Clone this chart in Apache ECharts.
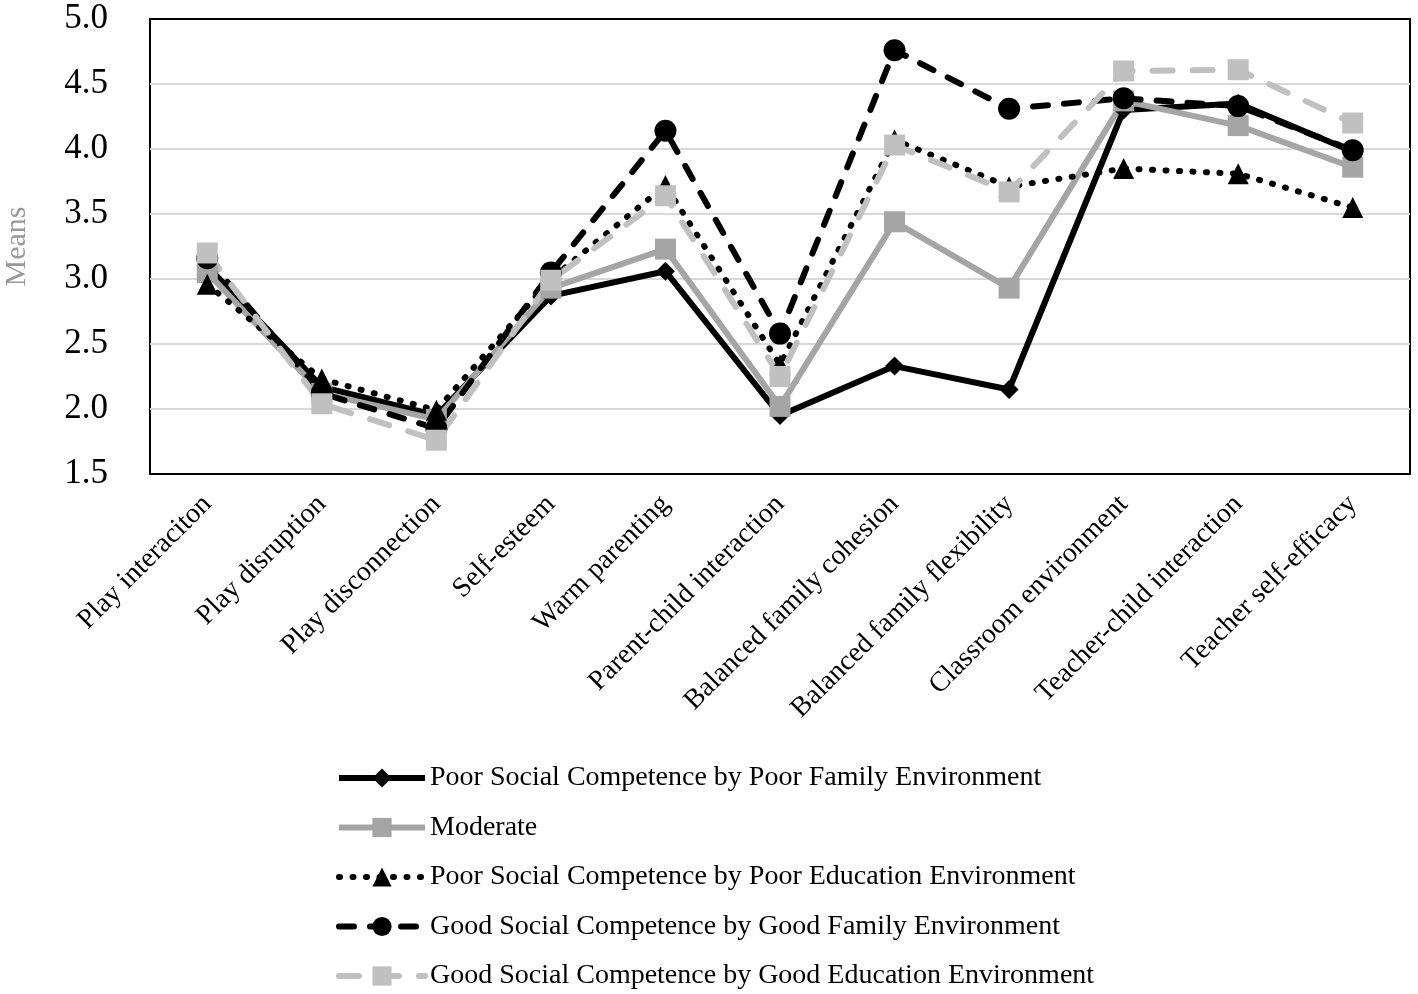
<!DOCTYPE html>
<html>
<head>
<meta charset="utf-8">
<script src="https://cdn.jsdelivr.net/npm/echarts@6/dist/echarts.min.js"></script>
<style>
html,body{margin:0;padding:0;background:#fff;}
#chart{width:1418px;height:994px;}
</style>
</head>
<body>
<div id="chart"></div>
<script>
const categories = ["Play interaciton","Play disruption","Play disconnection","Self-esteem","Warm parenting","Parent-child interaction","Balanced family cohesion","Balanced family flexibility","Classroom environment","Teacher-child interaction","Teacher self-efficacy"];
const seriesNames = ["Poor Social Competence by Poor Family Environment","Moderate","Poor Social Competence by Poor Education Environment","Good Social Competence by Good Family Environment","Good Social Competence by Good Education Environment"];
const poorFamily = [3.10, 2.17, 1.95, 2.87, 3.06, 1.95, 2.33, 2.15, 4.30, 4.35, 3.98];
const moderate = [3.05, 2.12, 1.92, 2.93, 3.23, 2.02, 3.44, 2.93, 4.37, 4.18, 3.86];
const poorEducation = [2.96, 2.23, 1.99, 3.00, 3.72, 2.34, 4.07, 3.71, 3.85, 3.81, 3.55];
const goodFamily = [3.16, 2.12, 1.85, 3.05, 4.14, 2.58, 4.76, 4.31, 4.39, 4.33, 3.99];
const goodEducation = [3.20, 2.04, 1.76, 2.99, 3.64, 2.25, 4.03, 3.67, 4.60, 4.61, 4.20];
const yTicks = {min: 1.5, max: 5.0, interval: 0.5};

const font = "'Liberation Serif','Times New Roman',serif";
const chart = echarts.init(document.getElementById('chart'));
chart.setOption({
  animation: false,
  backgroundColor: '#fff',
  textStyle: {fontFamily: font},
  grid: {left: 150, top: 19, width: 1260, height: 455, show: true, borderColor: '#000', borderWidth: 2,
         backgroundColor: 'transparent', containLabel: false, outerBoundsMode: 'none'},
  legend: {
    orient: 'vertical', left: 331, top: 759, height: 240,
    itemWidth: 86, itemHeight: 24, itemGap: 21.5,
    lineStyle: {width: 6},
    textStyle: {fontFamily: font, fontSize: 28, color: '#000'},
    data: seriesNames
  },
  xAxis: {
    type: 'category', data: categories, boundaryGap: true,
    axisLine: {show: true, lineStyle: {color: '#000', width: 2}}, axisTick: {show: false},
    axisLabel: {rotate: 45, fontSize: 28, color: '#000', fontFamily: font, margin: 26, interval: 0}
  },
  yAxis: {
    type: 'value', min: yTicks.min, max: yTicks.max, interval: yTicks.interval,
    name: 'Means', nameLocation: 'middle', nameGap: 118, nameRotate: 90,
    nameTextStyle: {fontSize: 30, color: '#999', fontFamily: font},
    axisLine: {show: false}, axisTick: {show: false},
    axisLabel: {fontSize: 35, color: '#000', fontFamily: font, margin: 42, formatter: v => v.toFixed(1)},
    splitLine: {showMinLine: false, showMaxLine: false, lineStyle: {color: '#d9d9d9', width: 2}}
  },
  series: [
    {name: seriesNames[0], type: 'line', data: poorFamily, symbol: 'diamond', symbolSize: 19,
     itemStyle: {color: '#000'}, lineStyle: {color: '#000', width: 6}},
    {name: seriesNames[1], type: 'line', data: moderate, symbol: 'rect', symbolSize: 21,
     itemStyle: {color: '#a5a5a5'}, lineStyle: {color: '#a5a5a5', width: 6}},
    {name: seriesNames[2], type: 'line', data: poorEducation, symbol: 'triangle', symbolSize: 21,
     itemStyle: {color: '#000'}, lineStyle: {color: '#000', width: 6, type: [1, 12.5], cap: 'round'}},
    {name: seriesNames[3], type: 'line', data: goodFamily, symbol: 'circle', symbolSize: 22,
     itemStyle: {color: '#000'}, lineStyle: {color: '#000', width: 6, type: [15, 16], cap: 'round'}},
    {name: seriesNames[4], type: 'line', data: goodEducation, symbol: 'rect', symbolSize: 21,
     itemStyle: {color: '#c0c0c0'}, lineStyle: {color: '#c0c0c0', width: 6, type: [20, 20], cap: 'round'}}
  ]
});
</script>
</body>
</html>
